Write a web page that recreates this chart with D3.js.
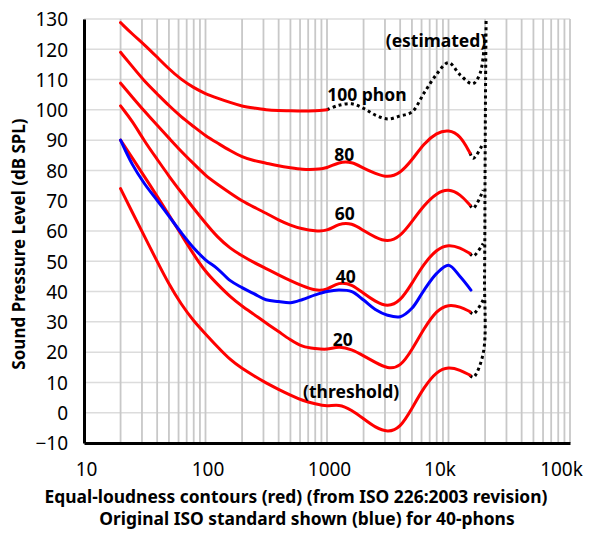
<!DOCTYPE html>
<html><head><meta charset="utf-8">
<script src="https://cdn.jsdelivr.net/npm/d3@7"></script>
<style>
body{margin:0;background:#fff}
text{font-family:"Noto Sans",sans-serif;fill:#000}
</style>
</head><body>
<svg id="chart" width="600" height="539"></svg>
<script>
// ---- data ----
const freqs = [20,25,31.5,40,50,63,80,100,125,160,200,250,315,400,500,630,800,1000,1250,1600,2000,2500,3150,4000,5000,6300,8000,10000,12500,15000];
const threshold = [74.0,66.1,58.2,49.9,42.4,35.8,30.2,26.0,21.8,17.4,14.6,12.2,9.8,7.7,5.8,4.0,2.9,2.0,2.9,0.9,-2.0,-4.9,-6.5,-5.1,1.4,8.5,13.7,15.2,14.1,12.4];
const phon20 = [90.0,84.1,77.9,71.5,65.3,58.9,52.2,46.5,42.5,38.2,35.2,32.5,29.6,26.8,24.0,21.7,21.2,20.7,22.0,20.9,18.8,16.6,14.5,15.0,20.7,27.9,33.9,35.8,35.0,33.4];
const phon40 = [101.3,96.3,89.6,83.7,78.1,72.8,67.4,62.6,58.0,54.2,51.8,49.6,47.6,45.5,43.6,41.8,40.3,40.5,43.2,42.4,39.4,36.7,34.9,36.7,42.7,49.3,54.0,55.6,54.5,52.6];
const phon60 = [108.8,104.2,99.5,94.9,90.7,86.3,82.2,78.3,75.5,72.5,69.9,67.9,65.9,63.6,61.9,60.6,60.0,59.9,62.5,62.7,60.1,57.9,56.3,58.1,63.1,68.6,72.6,74.0,72.1,68.6];
const phon80 = [119.0,114.3,109.4,105.3,101.4,97.7,94.5,91.4,89.1,86.5,84.4,83.2,82.4,81.5,80.9,80.3,80.3,80.7,82.8,82.9,80.7,79.0,77.6,79.0,83.4,89.0,92.5,93.5,91.6,85.8];
const phon100Freqs = [20,25,31.5,40,50,63,80,100,125,160,200,250,315,400,500,630,800,1000];
const phon100 = [128.8,125.0,121.5,117.4,113.5,110.0,107.3,105.3,103.9,102.4,101.2,100.6,100.0,99.8,99.7,99.6,99.7,100.0];
// original ISO 40-phon contour (blue)
const isoOldFreqs = [20,25,31.5,40,50,63,80,100,125,160,200,250,315,400,500,630,800,1000,1250,1600,2000,2500,3150,4000,5000,6300,8000,10000,12500,15300];
const isoOld40 = [90.0,82.0,75.6,70.1,64.9,59.5,54.4,50.5,47.6,43.6,41.3,39.3,37.3,36.7,36.3,37.4,38.9,40.0,40.5,40.0,37.2,34.1,32.2,31.7,34.5,40.5,46.0,48.7,44.9,40.5];
// estimated (dotted) parts
const est100Freqs = [1000,1250,1600,2000,2500,3150,4000,5000,6300,8000,10000,12500,15800,18200,20000];
const est100 = [100.0,101.5,102.0,100.5,98.3,97.0,98.0,99.3,105.6,111.8,115.6,111.5,108.6,112.1,125];
const estFreqs = [15000,16000,19300];
const estThreshold = [12.4,11.7,19.6];
const est20 = [33.4,32.6,37.2];
const est40 = [52.6,51.7,55.9];
const est60 = [68.6,67.5,73.5];
const est80 = [85.8,84.0,89.0];
const edgeFreqs = [19800,20000,20200,20400];
const edgeDb = [45,80,110,130];
// ticks & labels
const yTicks = [-10,0,10,20,30,40,50,60,70,80,90,100,110,120,130];
const xTicks = [10,100,1000,10000,100000];
const xTickLabels = ["10","100","1000","10k","100k"];
const curveLabels = [
  {text:"100 phon", f:2130, db:102.9},
  {text:"80", f:1390, db:83.1},
  {text:"60", f:1400, db:63.6},
  {text:"40", f:1430, db:42.8},
  {text:"20", f:1350, db:22.0},
  {text:"(threshold)", f:1580, db:4.9},
  {text:"(estimated)", f:7890, db:120.9}
];

// ---- drawing ----
const svg = d3.select("#chart");
const x = d3.scaleLog().domain([10,100000]).range([84,570]);
const y = d3.scaleLinear().domain([-10,130]).range([443,19]);

// grid
const minor = [];
for (let p = 10; p < 100000; p *= 10) for (let k = 1; k <= 9; k++) minor.push(p*k);
minor.push(100000);
const grid = svg.append("g");
grid.selectAll("line.h").data(yTicks).join("line").attr("class","h")
  .attr("x1",x(10)).attr("x2",x(100000)).attr("y1",d=>y(d)).attr("y2",d=>y(d))
  .attr("stroke","#dcdcdc").attr("stroke-width",1.5);
grid.selectAll("line.v").data(minor).join("line").attr("class","v")
  .attr("x1",d=>x(d)).attr("x2",d=>x(d)).attr("y1",y(130)).attr("y2",y(-10))
  .attr("stroke","#c8c8c8").attr("stroke-width",1.8);

// axes
const yAxis = svg.append("g").attr("transform",`translate(${x(10)},0)`)
  .call(d3.axisLeft(y).tickValues(yTicks).tickSize(0).tickPadding(16).tickFormat(d3.format("d")));
yAxis.select(".domain").attr("stroke","#000").attr("stroke-width",3);
yAxis.selectAll("text").attr("font-size",19).attr("font-family","Noto Sans").attr("dy","0.36em");

const xAxis = svg.append("g").attr("transform",`translate(0,${y(-10)})`)
  .call(d3.axisBottom(x).tickValues(xTicks).tickSize(0).tickPadding(20).tickFormat((d,i)=>xTickLabels[i]));
xAxis.select(".domain").attr("stroke","#000").attr("stroke-width",3);
xAxis.selectAll("text").attr("font-size",19).attr("font-family","Noto Sans")
  .attr("dx",(d,i)=> xTickLabels[i].endsWith("k") ? -9 : 2);

// lines
const smooth = d3.line().x(d=>x(d[0])).y(d=>y(d[1])).curve(d3.curveBasis);
const through = d3.line().x(d=>x(d[0])).y(d=>y(d[1])).curve(d3.curveCatmullRom.alpha(0.5));
const zip = (fs,vs)=>fs.map((f,i)=>[f,vs[i]]);
const withEdge = (fs,vs)=>{
  const pts = zip(fs,vs);
  edgeFreqs.forEach((f,i)=>pts.push([f,edgeDb[i]]));
  return pts;
};

const dotted = [
  withEdge(estFreqs,estThreshold),
  zip(estFreqs,est20),
  zip(estFreqs,est40),
  zip(estFreqs,est60),
  zip(estFreqs,est80),
  zip(est100Freqs,est100)
];
svg.append("g").selectAll("path").data(dotted).join("path")
  .attr("d",through).attr("fill","none").attr("stroke","#000")
  .attr("stroke-width",3).attr("stroke-dasharray","3,3.2");

const reds = [threshold,phon20,phon40,phon60,phon80].map(v=>zip(freqs,v));
reds.push(zip(phon100Freqs,phon100));
svg.append("g").selectAll("path").data(reds).join("path")
  .attr("d",smooth).attr("fill","none").attr("stroke","#ff0000").attr("stroke-width",3)
  .attr("stroke-linecap","round");

svg.append("path").datum(zip(isoOldFreqs,isoOld40))
  .attr("d",through).attr("fill","none").attr("stroke","#0000ff").attr("stroke-width",3)
  .attr("stroke-linecap","round");

// curve labels
svg.append("g").selectAll("text").data(curveLabels).join("text")
  .attr("x",d=>x(d.f)).attr("y",d=>y(d.db)).attr("text-anchor","middle")
  .attr("font-size",17.5).attr("font-weight","bold").text(d=>d.text);

// axis titles
svg.append("text").attr("transform",`translate(25,244) rotate(-90)`)
  .attr("text-anchor","middle").attr("font-size",17).attr("font-weight","bold")
  .text("Sound Pressure Level (dB SPL)");
svg.append("text").attr("x",296).attr("y",503).attr("text-anchor","middle")
  .attr("font-size",17.4).attr("font-weight","bold")
  .text("Equal-loudness contours (red) (from ISO 226:2003 revision)");
svg.append("text").attr("x",307).attr("y",525).attr("text-anchor","middle")
  .attr("font-size",17.4).attr("font-weight","bold")
  .text("Original ISO standard shown (blue) for 40-phons");
</script>
</body></html>
